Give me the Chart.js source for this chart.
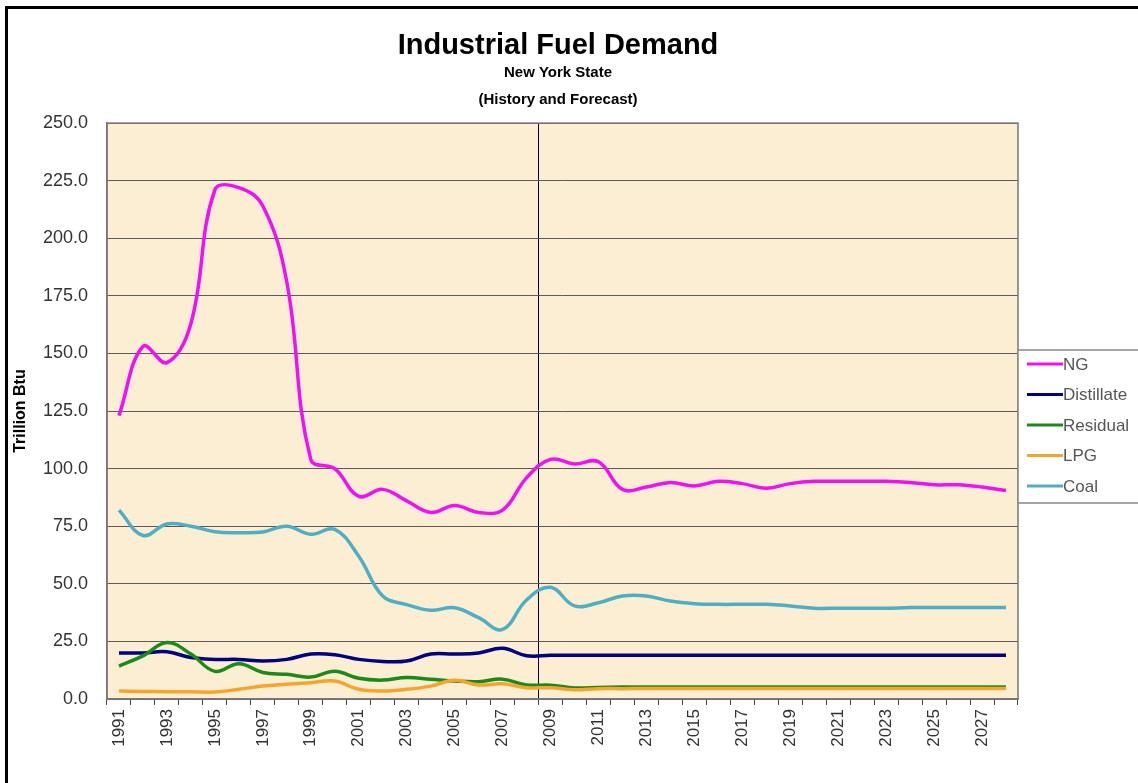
<!DOCTYPE html>
<html>
<head>
<meta charset="utf-8">
<script src="https://cdn.jsdelivr.net/npm/chart.js@4"></script>
<style>
  html, body { margin: 0; padding: 0; background: #fff; overflow: hidden; }
  #frame { position: absolute; left: 5px; top: 6px; width: 1200px; height: 900px; border: 3px solid #000; }
  #myChart { position: absolute; left: 0; top: 0; }
</style>
</head>
<body>
<div id="frame"></div>
<canvas id="myChart" width="1138" height="783"></canvas>
<script>
// years 1991..2028
const years = [];
for (let y = 1991; y <= 2028; y++) years.push(String(y));

const ng = [123, 153, 146, 163, 221, 222, 214, 181, 104, 100,
  88, 91, 86, 81, 84, 81, 82, 96, 104, 102,
  103, 91, 92, 94, 92.5, 94.5, 93.5, 91.5, 93.5, 94.5,
  94.5, 94.5, 94.5, 94, 93, 93, 92, 90.5];
const distillate = [20, 20, 20.5, 18, 17.2, 17.2, 16.5, 17.2, 19.5, 19.2,
  17.2, 16.3, 16.5, 19.5, 19.5, 20, 22, 18.8, 19, 19,
  19, 19, 19, 19, 19, 19, 19, 19, 19, 19,
  19, 19, 19, 19, 19, 19, 19, 19];
const residual = [14.3, 18.7, 24.5, 19.5, 12, 15.3, 11.5, 10.7, 9.5, 12,
  9, 8.2, 9.3, 8.6, 7.8, 7.5, 8.6, 6.1, 6, 4.8,
  5, 5.2, 5.2, 5.2, 5.2, 5.2, 5.2, 5.2, 5.2, 5.2,
  5.2, 5.2, 5.2, 5.2, 5.2, 5.2, 5.2, 5.2];
const lpg = [3.5, 3.3, 3.2, 3.1, 3.0, 4.2, 5.6, 6.4, 7.1, 7.8,
  4.2, 3.5, 4.2, 5.6, 8.1, 6.1, 6.6, 4.9, 4.9, 4.0,
  4.5, 4.5, 4.6, 4.6, 4.6, 4.6, 4.6, 4.6, 4.6, 4.6,
  4.6, 4.6, 4.6, 4.6, 4.6, 4.6, 4.6, 4.6];
const coal = [82, 71, 76, 75, 72.6, 72.2, 72.5, 75, 71.5, 73.6,
  62, 44.7, 41, 38.5, 39.6, 35.3, 30.2, 43, 48.5, 40.4,
  41.8, 44.7, 44.7, 42.5, 41.4, 41.1, 41.1, 41.1, 40.4, 39.4,
  39.4, 39.4, 39.4, 39.7, 39.7, 39.7, 39.7, 39.7];

const seriesNames = ['NG', 'Distillate', 'Residual', 'LPG', 'Coal'];
const seriesColors = ['#F010F0', '#000080', '#1B8A1B', '#F5A52A', '#4FAEC4'];
const forecastStart = years.indexOf('2009');

const font = '"Liberation Sans", Arial, sans-serif';

const plotBg = {
  id: 'plotBg',
  beforeDraw(chart) {
    const { ctx, chartArea: a } = chart;
    ctx.save();
    ctx.fillStyle = '#FCEED3';
    ctx.fillRect(a.left, a.top, a.right - a.left, a.bottom - a.top);
    ctx.restore();
  },
  afterDatasetsDraw(chart) {
    const { ctx, chartArea: a } = chart;
    ctx.save();
    ctx.strokeStyle = '#777';
    ctx.lineWidth = 1.5;
    ctx.strokeRect(a.left, a.top, a.right - a.left, a.bottom - a.top);
    ctx.restore();
  }
};

// Excel-like legend box sitting against the right edge of the plot
const sideLegend = {
  id: 'sideLegend',
  afterDraw(chart) {
    const { ctx, chartArea: a } = chart;
    const top = 350, rowH = 30.5;
    ctx.save();
    ctx.fillStyle = '#fff';
    ctx.fillRect(a.right, top, 140, 153);
    ctx.strokeStyle = '#888';
    ctx.lineWidth = 1.5;
    ctx.strokeRect(a.right, top, 140, 153);
    ctx.font = '17px ' + font;
    ctx.textBaseline = 'middle';
    chart.data.datasets.forEach((ds, i) => {
      const y = top + 14 + i * rowH;
      ctx.strokeStyle = ds.borderColor;
      ctx.lineWidth = 3;
      ctx.beginPath();
      ctx.moveTo(a.right + 9, y);
      ctx.lineTo(a.right + 45, y);
      ctx.stroke();
      ctx.fillStyle = '#555';
      ctx.fillText(ds.label, a.right + 45, y + 1);
    });
    ctx.restore();
  }
};

const datasets = [ng, distillate, residual, lpg, coal].map((vals, i) => ({
  label: seriesNames[i],
  data: vals,
  borderColor: seriesColors[i],
  backgroundColor: seriesColors[i],
  borderWidth: 3.5,
  pointRadius: 0,
  tension: 0.4,
  fill: false,
  order: 5 - i
}));

const config = {
  type: 'line',
  data: { labels: years, datasets: datasets },
  options: {
    responsive: false,
    animation: false,
    layout: { padding: { left: 0, right: 22, top: 0, bottom: 0 } },
    plugins: {
      legend: { display: false },
      tooltip: { enabled: false },
      title: {
        display: true,
        text: 'Industrial Fuel Demand',
        color: '#000',
        font: { family: font, size: 29, weight: 'bold', lineHeight: 0.9 },
        padding: { top: 33, bottom: 0 }
      },
      subtitle: {
        display: true,
        text: ['New York State', '(History and Forecast)'],
        color: '#000',
        font: { family: font, size: 15, weight: 'bold', lineHeight: 1.8 },
        padding: { top: 0, bottom: 10 }
      }
    },
    scales: {
      x: {
        offset: true,
        afterFit(s) { s.height = 84; },
        grid: {
          offset: true,
          color: ctx => ctx.index === forecastStart ? '#000' : 'rgba(0,0,0,0)',
          tickColor: '#444',
          tickLength: 6,
          lineWidth: 1
        },
        border: { color: '#777', width: 1.5 },
        ticks: {
          autoSkip: false,
          maxRotation: 90,
          minRotation: 90,
          padding: 4,
          color: '#333',
          font: { family: font, size: 17 },
          callback: (v, i) => (i % 2 === 0 ? years[i] : '')
        }
      },
      y: {
        min: 0,
        max: 250,
        afterFit(s) { s.width = 107; },
        grid: { color: '#5a5a5a', lineWidth: 1, drawTicks: false },
        border: { color: '#777', width: 1.5 },
        ticks: {
          stepSize: 25,
          padding: 19,
          color: '#333',
          font: { family: font, size: 18 },
          callback: v => v.toFixed(1)
        },
        title: {
          display: true,
          text: 'Trillion Btu',
          color: '#000',
          font: { family: font, size: 16, weight: 'bold' },
          padding: { top: 11, bottom: 0 }
        }
      },
      // empty right-hand strip where the legend box sits
      yRight: {
        type: 'linear',
        position: 'right',
        afterFit(s) { s.width = 98; },
        grid: { drawOnChartArea: false, drawTicks: false },
        border: { display: false },
        ticks: { display: false }
      }
    }
  },
  plugins: [plotBg, sideLegend]
};

new Chart(document.getElementById('myChart'), config);
</script>
</body>
</html>
